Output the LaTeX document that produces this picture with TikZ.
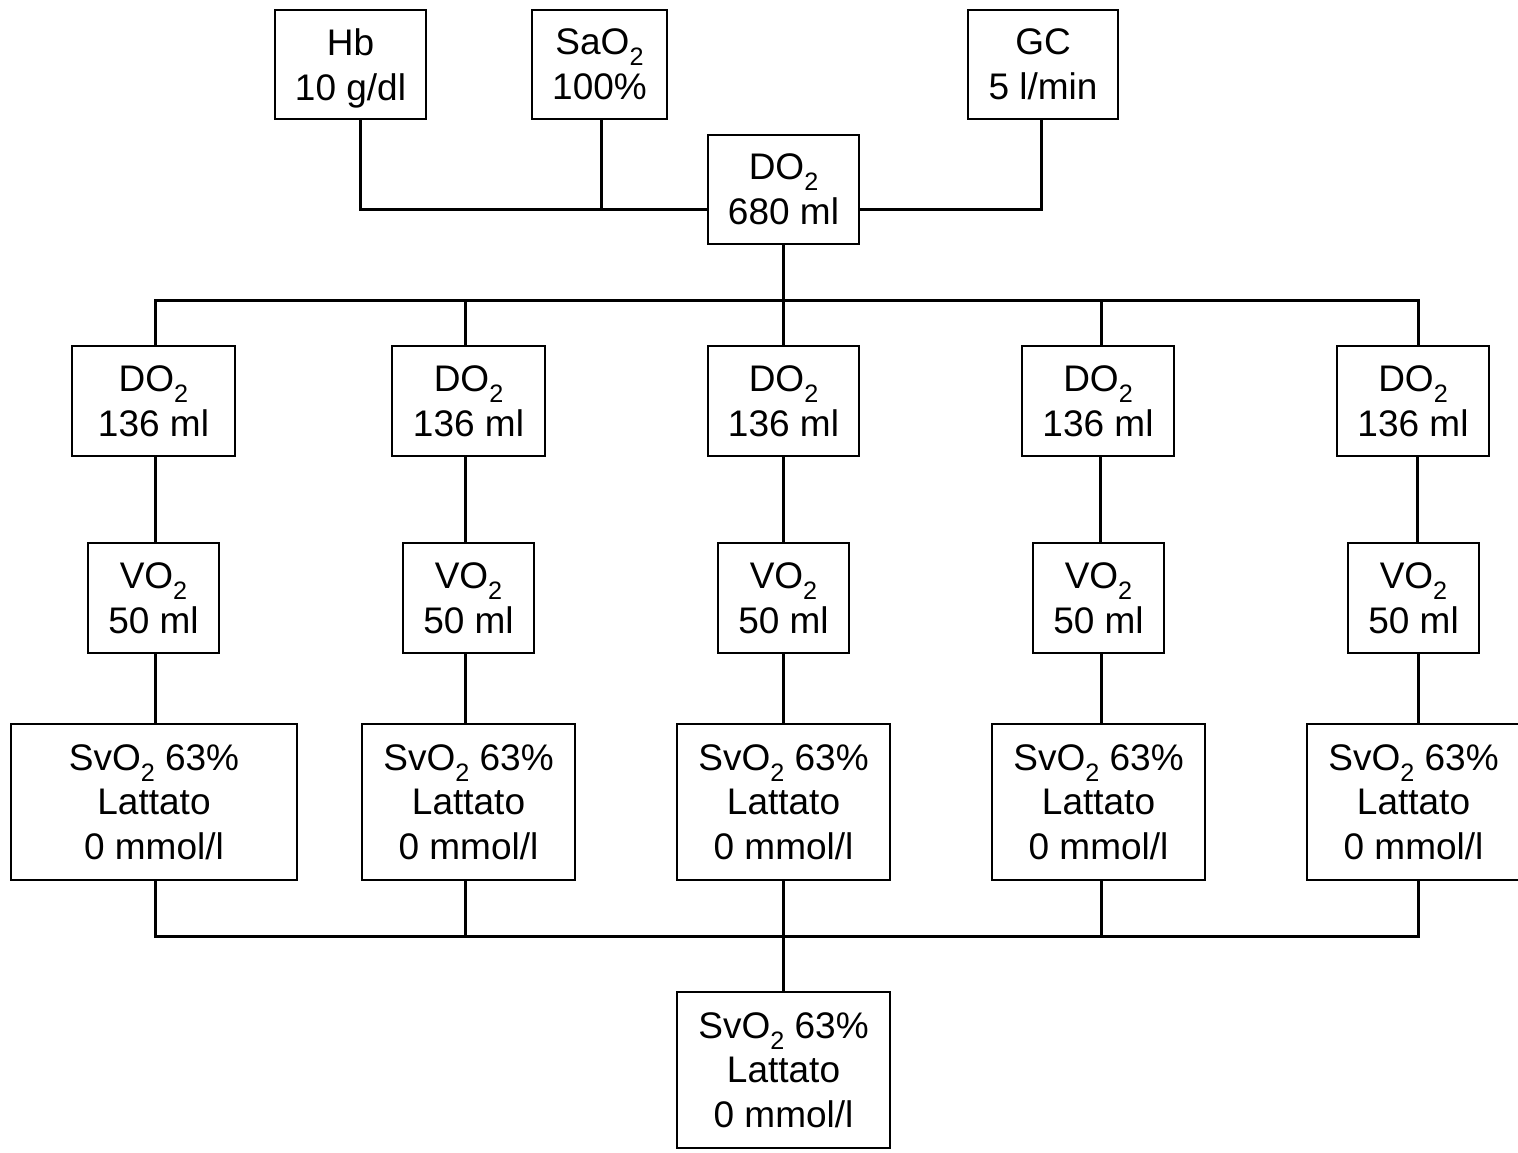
\documentclass[tikz,border=0pt]{standalone}
\usepackage{fontspec}
\setmainfont{Liberation Sans}
\newcommand{\mysub}[1]{\raisebox{-5.5pt}{\fontsize{12.6}{13}\selectfont #1}}
\begin{document}
\begin{tikzpicture}[x=0.5pt,y=-0.5pt,
  box/.style={draw, line width=1.3pt, inner sep=0pt, align=center,
    font=\fontsize{18.5}{22.3}\selectfont},
  topbox/.style={box, minimum height=54.5pt},
  dobox/.style={box, minimum height=55pt},
  vobox/.style={box, minimum height=55pt, minimum width=65.5pt},
  svbox/.style={box, minimum height=78pt},
  conn/.style={line width=1.5pt}]
\useasboundingbox (0,0) rectangle (1518,1152);
% top row
\node[topbox, minimum width=75.5pt, text depth=0pt] (hb) at (350.5,64.5) {Hb\\10 g/dl};
\node[topbox, minimum width=67.5pt] (sao) at (599.5,64.5) {SaO\mysub{2}\\100\%};
\node[topbox, minimum width=75pt] (gc) at (1043,64.5) {GC\\5 l/min};
\node[topbox, minimum width=75.5pt] (do) at (783.5,189.5) {DO\mysub{2}\\680 ml};
% DO2 row
\node[dobox, minimum width=81.5pt] (d1) at (153.5,401) {DO\mysub{2}\\ 136 ml};
\node[dobox, minimum width=76.5pt] (d2) at (468.5,401) {DO\mysub{2}\\136 ml};
\node[dobox, minimum width=75.5pt] (d3) at (783.5,401) {DO\mysub{2}\\136 ml};
\node[dobox, minimum width=76pt] (d4) at (1098,401) {DO\mysub{2}\\136 ml};
\node[dobox, minimum width=76pt] (d5) at (1413,401) {DO\mysub{2}\\136 ml};
% VO2 row
\node[vobox] (v1) at (153.5,598) {VO\mysub{2}\\50 ml};
\node[vobox] (v2) at (468.5,598) {VO\mysub{2}\\50 ml};
\node[vobox] (v3) at (783.5,598) {VO\mysub{2}\\50 ml};
\node[vobox] (v4) at (1098.5,598) {VO\mysub{2}\\50 ml};
\node[vobox] (v5) at (1413.5,598) {VO\mysub{2}\\50 ml};
% SvO2 row
\node[svbox, minimum width=143pt] (s1) at (154,802) {SvO\mysub{2} 63\%\\Lattato\\0 mmol/l};
\node[svbox, minimum width=106.5pt] (s2) at (468.5,802) {SvO\mysub{2} 63\%\\Lattato\\0 mmol/l};
\node[svbox, minimum width=106.5pt] (s3) at (783.5,802) {SvO\mysub{2} 63\%\\Lattato\\0 mmol/l};
\node[svbox, minimum width=106.5pt] (s4) at (1098.5,802) {SvO\mysub{2} 63\%\\Lattato\\0 mmol/l};
\node[svbox, minimum width=106.5pt] (s5) at (1413.5,802) {SvO\mysub{2} 63\%\\Lattato\\0 mmol/l};
% final
\node[svbox, minimum width=106.5pt] (f) at (783.5,1070) {SvO\mysub{2} 63\%\\Lattato\\0 mmol/l};
% bus coordinates
\coordinate (bustop) at (783.5,300);
\coordinate (busbot) at (783.5,936);
% connectors top
\draw[conn] ([xshift=4.75pt]hb.south) |- ([yshift=-9.75pt]do.west);
\draw[conn] ([xshift=1pt]sao.south) -- ([xshift=1pt,yshift=-9.75pt]sao.south |- do.west);
\draw[conn] ([xshift=-1pt]gc.south) |- ([yshift=-9.75pt]do.east);
\draw[conn] (do.south) -- (bustop);
\draw[conn] ([xshift=0.75pt]d1.north) |- (bustop);
\draw[conn] ([xshift=-1.75pt]d2.north) |- (bustop);
\draw[conn] (d3.north) -- (bustop);
\draw[conn] ([xshift=1.5pt]d4.north) |- (bustop);
\draw[conn] ([xshift=2.5pt]d5.north) |- (bustop);
% columns
\foreach \i/\s in {1/0.75pt,2/-1.75pt,3/0pt,4/1.25pt,5/2.25pt}{
  \draw[conn] ([xshift=\s]d\i.south) -- ([xshift=\s]d\i.south |- v\i.north);
  \draw[conn] ([xshift=\s]v\i.south) -- ([xshift=\s]v\i.south |- s\i.north);
}
% bottom bus
\draw[conn] ([xshift=0.5pt]s1.south) |- (busbot);
\draw[conn] ([xshift=-1.75pt]s2.south) |- (busbot);
\draw[conn] (s3.south) -- (busbot);
\draw[conn] ([xshift=1.25pt]s4.south) |- (busbot);
\draw[conn] ([xshift=2.25pt]s5.south) |- (busbot);
\draw[conn] (busbot) -- (f.north);
\end{tikzpicture}
\end{document}
